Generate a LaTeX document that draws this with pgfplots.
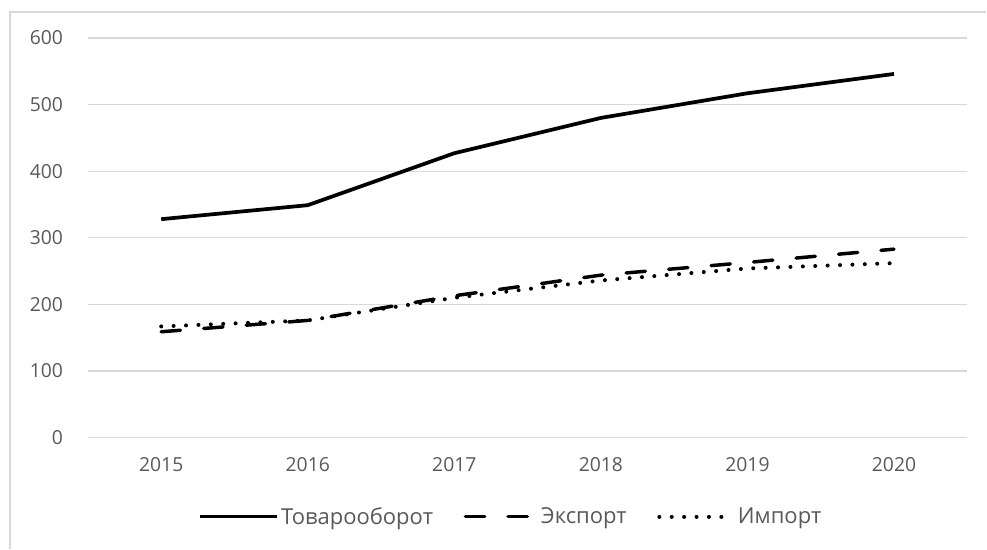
\documentclass[border=0pt]{standalone}
\usepackage{pgfplots}
\pgfplotsset{compat=1.18}
\usepackage{fontspec}
\setmainfont{Open Sans}
\definecolor{txt}{RGB}{89,89,89}
\definecolor{gridc}{RGB}{217,217,217}
\pgfplotsset{
  leg solid/.style={legend image code/.code={\draw[##1] (0pt,0pt) -- (57.75pt,0pt);}},
  leg dash/.style={legend image code/.code={\draw[##1] (1.3pt,0pt) -- (49pt,0pt);
    \path[draw=none] (0pt,0pt) -- (56pt,0pt);}},
  leg dot/.style={legend image code/.code={\draw[##1] (0pt,0pt) -- (47.2pt,0pt);
    \path[draw=none] (0pt,0pt) -- (57pt,0pt);}},
}
\begin{document}
\begin{tikzpicture}
% canvas 987x549 px, 1px = 0.75pt
\path (0,0) rectangle (740.25pt,411.75pt);
\draw[gridc, line width=1.1pt] (7.5pt,0) -- (7.5pt,402.75pt) -- (740.25pt,402.75pt);
\begin{axis}[
  at={(66pt,83.25pt)}, anchor=south west,
  scale only axis, width=660pt, height=300pt,
  xmin=-0.5, xmax=5.5, ymin=0, ymax=600,
  xtick={0,...,5}, xticklabels={2015,2016,2017,2018,2019,2020},
  ytick={0,100,...,600},
  axis line style={draw=none},
  major tick length=0pt,
  xmajorgrids=false, ymajorgrids=true,
  major grid style={draw=gridc, line width=0.9pt},
  tick label style={font=\fontsize{14.5}{16}\selectfont, text=txt},
  /pgf/number format/assume math mode=true,
  yticklabel style={inner sep=0pt, xshift=-18.5pt},
  xticklabel style={inner sep=0pt, yshift=-15pt},
  legend style={at={(0.481,-0.1975)}, anchor=center, draw=none,
    font=\fontsize{16.5}{18}\selectfont, text=txt,
    legend columns=3, /tikz/every even column/.append style={column sep=21pt},
    /tikz/every odd column/.append style={column sep=0pt}},
]
\addplot[black, line width=2.8pt, line join=round, leg solid] coordinates
  {(0,328) (1,349) (2,427) (3,480) (4,517) (5,546)};
\addlegendentry{Товарооборот}
\addplot[black, line width=2.6pt, line cap=round, dash pattern=on 14.5pt off 17.5pt, leg dash] coordinates
  {(0,159) (1,176) (2,213) (3,244) (4,263) (5,283)};
\addlegendentry{Экспорт}
\addplot[black, line width=3pt, line cap=round, dash pattern=on 0.01pt off 9.3pt, leg dot] coordinates
  {(0,167) (1,176) (2,210) (3,236) (4,254) (5,262)};
\addlegendentry{Импорт}
\end{axis}
\end{tikzpicture}
\end{document}
